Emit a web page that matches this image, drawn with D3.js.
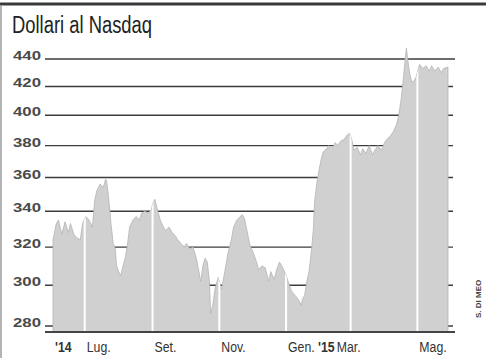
<!DOCTYPE html>
<html>
<head>
<meta charset="utf-8">
<script src="https://d3js.org/d3.v7.min.js"></script>
<style>
  body { margin: 0; background: #fff; }
  svg { display: block; font-family: "Liberation Sans", Arial, sans-serif; }
</style>
</head>
<body>
<svg id="chart" width="486" height="358"></svg>
<script>
// Nasdaq share price, dollars
const dates = [
  "2014-06-02","2014-06-05","2014-06-07","2014-06-10","2014-06-13","2014-06-16","2014-06-18","2014-06-21",
  "2014-06-24","2014-06-27","2014-06-29","2014-07-02","2014-07-05","2014-07-08","2014-07-10","2014-07-12",
  "2014-07-15","2014-07-18","2014-07-20","2014-07-21","2014-07-23","2014-07-25","2014-07-27","2014-07-29",
  "2014-07-30","2014-08-01","2014-08-03","2014-08-05","2014-08-07","2014-08-09","2014-08-11","2014-08-14",
  "2014-08-17","2014-08-20","2014-08-22","2014-08-25","2014-08-28","2014-08-31","2014-09-01","2014-09-03",
  "2014-09-05","2014-09-08","2014-09-11","2014-09-13","2014-09-16","2014-09-19","2014-09-22","2014-09-24",
  "2014-09-27","2014-09-30","2014-10-02","2014-10-05","2014-10-08","2014-10-11","2014-10-13","2014-10-15",
  "2014-10-17","2014-10-19","2014-10-21","2014-10-23","2014-10-24","2014-10-26","2014-10-28","2014-10-31",
  "2014-11-02","2014-11-03","2014-11-06","2014-11-09","2014-11-12","2014-11-14","2014-11-17","2014-11-20",
  "2014-11-22","2014-11-24","2014-11-26","2014-11-29","2014-12-02","2014-12-05","2014-12-07","2014-12-10",
  "2014-12-13","2014-12-16","2014-12-18","2014-12-21","2014-12-24","2014-12-26","2014-12-29","2015-01-01",
  "2015-01-04","2015-01-06","2015-01-09","2015-01-12","2015-01-15","2015-01-16","2015-01-18","2015-01-20",
  "2015-01-22","2015-01-24","2015-01-26","2015-01-27","2015-01-29","2015-01-31","2015-02-02","2015-02-04",
  "2015-02-07","2015-02-09","2015-02-12","2015-02-15","2015-02-17","2015-02-20","2015-02-23","2015-02-26",
  "2015-02-28","2015-03-02","2015-03-04","2015-03-07","2015-03-10","2015-03-12","2015-03-15","2015-03-18",
  "2015-03-21","2015-03-23","2015-03-26","2015-03-29","2015-04-01","2015-04-03","2015-04-06","2015-04-09",
  "2015-04-12","2015-04-14","2015-04-16","2015-04-18","2015-04-20","2015-04-21","2015-04-22","2015-04-24",
  "2015-04-26","2015-04-28","2015-04-30","2015-05-02","2015-05-03","2015-05-06","2015-05-09","2015-05-12",
  "2015-05-14","2015-05-17","2015-05-20","2015-05-23","2015-05-25","2015-05-29"
];
const prices = [
  324,333,335,327,334,328,333,327,
  325,324,333,337,335,331,346,352,
  356,354,359,358,347,333,322,319,
  310,307,305,310,314,321,331,335,
  337,335,339,340,339,341,344,347,
  342,335,331,329,331,328,326,324,
  322,320,322,319,320,314,308,302,
  310,314,312,302,286,290,298,304,
  300,298,307,317,324,331,335,337,
  338,336,330,321,317,312,308,310,
  309,302,307,303,309,312,309,305,
  300,297,295,293,290,293,295,302,
  307,317,330,345,356,364,371,376,
  378,380,378,382,380,383,384,387,
  388,384,377,379,374,378,375,380,
  374,377,380,377,382,384,386,389,
  394,400,410,424,441,448,441,429,
  423,424,427,433,436,433,435,431,
  435,431,434,430,433,434
];
const yTicks = [280, 300, 320, 340, 360, 380, 400, 420, 440];
const monthStarts = ["2014-06-02","2014-07-01","2014-09-01","2014-11-01","2015-01-01","2015-03-01","2015-05-01"];
const monthNames = ["", "Lug.", "Set.", "Nov.", "Gen. ", "Mar.", "Mag."];
const yearNames = ["'14", "", "", "", "'15", "", ""];

const parse = d3.timeParse("%Y-%m-%d");
const data = dates.map((d, i) => ({ date: parse(d), value: prices[i] }));

const svg = d3.select("#chart");

const x = d3.scaleTime()
  .domain([parse("2014-06-02"), parse("2015-05-29")])
  .range([53, 448]);
const y = d3.scaleLog()
  .domain([280, 440])
  .range([326, 59]);
const baseY = 332;

// frame bits of the clipping
svg.append("line").attr("x1", 0).attr("x2", 486).attr("y1", 4).attr("y2", 4)
  .attr("stroke", "#3a3a3a").attr("stroke-width", 3);
svg.append("line").attr("x1", 1).attr("x2", 1).attr("y1", 5).attr("y2", 358)
  .attr("stroke", "#9a9a9a").attr("stroke-width", 1.5);

// title
svg.append("text")
  .attr("x", 12).attr("y", 33)
  .attr("font-size", 23)
  .attr("fill", "#222")
  .attr("textLength", 140).attr("lengthAdjust", "spacingAndGlyphs")
  .text("Dollari al Nasdaq");

// grid lines + labels
svg.append("g").selectAll("line").data(yTicks).join("line")
  .attr("x1", 45).attr("x2", d => d === 440 ? 455 : 453)
  .attr("y1", d => y(d)).attr("y2", d => y(d))
  .attr("stroke", "#3c3c3c").attr("stroke-width", 1.4);

svg.append("g").selectAll("text").data(yTicks).join("text")
  .attr("x", 41).attr("y", d => y(d) + 1)
  .attr("text-anchor", "end")
  .attr("font-size", 13).attr("font-weight", "bold")
  .attr("fill", "#4a4a4a")
  .attr("textLength", 28).attr("lengthAdjust", "spacingAndGlyphs")
  .text(d => d);

// area
const area = d3.area()
  .x(d => x(d.date))
  .y0(baseY)
  .y1(d => y(d.value));

svg.append("clipPath").attr("id", "areaClip")
  .append("path").datum(data).attr("d", area);

svg.append("path").datum(data)
  .attr("d", area)
  .attr("fill", "#d0d0d0")
  .attr("stroke", "#b4b4b4")
  .attr("stroke-width", 0.8);

// white month separators, only inside the area
svg.append("g").attr("clip-path", "url(#areaClip)")
  .selectAll("line").data(monthStarts.slice(1)).join("line")
  .attr("x1", d => x(parse(d))).attr("x2", d => x(parse(d)))
  .attr("y1", 40).attr("y2", baseY)
  .attr("stroke", "#fff").attr("stroke-width", 2);

// baseline
svg.append("line")
  .attr("x1", 45).attr("x2", 455).attr("y1", baseY).attr("y2", baseY)
  .attr("stroke", "#444").attr("stroke-width", 2);

// x labels, squeezed horizontally like the condensed print face
const xl = svg.append("g").selectAll("text").data(monthStarts).join("text")
  .attr("transform", (d, i) => {
    const px = monthNames[i] === "Mar." ? x(parse(d)) - 2 : x(parse(d)) + 2;
    return `translate(${px},352) scale(0.82,1)`;
  })
  .attr("text-anchor", (d, i) => monthNames[i] === "Mar." ? "middle" : "start")
  .attr("font-size", 15)
  .attr("fill", "#333");
xl.append("tspan").text((d, i) => monthNames[i]);
xl.append("tspan").attr("font-weight", "bold").text((d, i) => yearNames[i]);

// credit
svg.append("text")
  .attr("transform", "translate(481,318) rotate(-90)")
  .attr("font-size", 8).attr("font-weight", "bold")
  .attr("fill", "#444")
  .text("S. DI MEO");
</script>
</body>
</html>
